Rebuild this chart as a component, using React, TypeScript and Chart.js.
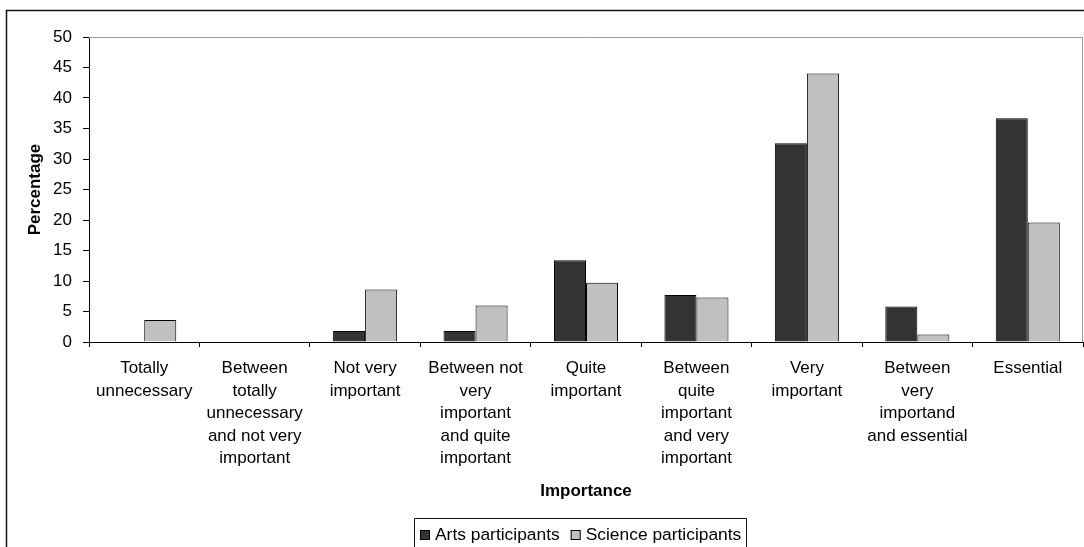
import React, { useEffect, useRef } from "react";
import { Chart, registerables } from "chart.js";

Chart.register(...registerables);

// Response categories (multi-line tick labels)
const categories: string[][] = [
  ["Totally", "unnecessary"],
  ["Between", "totally", "unnecessary", "and not very", "important"],
  ["Not very", "important"],
  ["Between not", "very", "important", "and quite", "important"],
  ["Quite", "important"],
  ["Between", "quite", "important", "and very", "important"],
  ["Very", "important"],
  ["Between", "very", "importand", "and essential"],
  ["Essential"],
];

const seriesNames = ["Arts participants", "Science participants"];

// Percentages per category
const artsValues = [0, 0, 1.8, 1.8, 13.4, 7.7, 32.6, 5.8, 36.7];
const scienceValues = [3.6, 0, 8.6, 6.0, 9.7, 7.3, 44.0, 1.25, 19.6];

const yTickValues = [0, 5, 10, 15, 20, 25, 30, 35, 40, 45, 50];

const seriesColors = ["#333333", "#c0c0c0"];

const FONT = "'Liberation Sans', Arial, Helvetica, sans-serif";

// Draws the outer frame, the grey top/right edges of the plot area and the boxed legend
const framePlugin = {
  id: "frameAndLegend",
  beforeDraw(chart: any) {
    const { ctx, width, height } = chart;
    ctx.save();
    ctx.fillStyle = "#ffffff";
    ctx.fillRect(0, 0, width, height);
    ctx.restore();
  },
  afterDraw(chart: any) {
    const { ctx } = chart;
    const { left, top, right, bottom } = chart.chartArea;
    ctx.save();

    // plot area edges
    ctx.strokeStyle = "#9a9a9a";
    ctx.lineWidth = 1;
    ctx.beginPath();
    ctx.moveTo(left, top + 0.5);
    ctx.lineTo(right - 0.5, top + 0.5);
    ctx.lineTo(right - 0.5, bottom);
    ctx.stroke();

    // outer chart frame
    ctx.strokeStyle = "#111111";
    ctx.lineWidth = 1.5;
    ctx.strokeRect(6.5, 10.5, 3000, 3000);

    // legend
    const fontSize = 17.4;
    ctx.font = `${fontSize}px ${FONT}`;
    ctx.textBaseline = "middle";
    ctx.textAlign = "left";
    const boxLeft = 414;
    const boxTop = 518;
    const inset = 6;
    const sw = 10;
    const gap = 5;
    const itemGap = 11;
    const cy = 535;
    let x = boxLeft + inset;
    chart.data.datasets.forEach((ds: any, i: number) => {
      if (i > 0) x += itemGap;
      ctx.fillStyle = ds.backgroundColor;
      ctx.fillRect(x, cy - sw / 2, sw, sw);
      ctx.strokeStyle = "#000";
      ctx.lineWidth = 1;
      ctx.strokeRect(x + 0.5, cy - sw / 2 + 0.5, sw - 1, sw - 1);
      x += sw + gap;
      ctx.fillStyle = "#000";
      ctx.fillText(ds.label, x, cy);
      x += ctx.measureText(ds.label).width;
    });
    const boxRight = x + 5;
    ctx.strokeStyle = "#111111";
    ctx.lineWidth = 1;
    ctx.beginPath();
    ctx.moveTo(boxLeft + 0.5, 600);
    ctx.lineTo(boxLeft + 0.5, boxTop + 0.5);
    ctx.lineTo(Math.round(boxRight) + 0.5, boxTop + 0.5);
    ctx.lineTo(Math.round(boxRight) + 0.5, 600);
    ctx.stroke();

    ctx.restore();
  },
};

export default function App() {
  const canvasRef = useRef<HTMLCanvasElement | null>(null);

  useEffect(() => {
    document.body.style.margin = "0";
    const canvas = canvasRef.current;
    if (!canvas) return;

    const chart = new Chart(canvas, {
      type: "bar",
      data: {
        labels: categories,
        datasets: [
          {
            label: seriesNames[0],
            data: artsValues,
            backgroundColor: seriesColors[0],
            borderColor: "#000000",
            borderWidth: 1,
            categoryPercentage: 0.58,
            barPercentage: 1,
          },
          {
            label: seriesNames[1],
            data: scienceValues,
            backgroundColor: seriesColors[1],
            borderColor: "#000000",
            borderWidth: 1,
            categoryPercentage: 0.58,
            barPercentage: 1,
          },
        ],
      },
      options: {
        responsive: false,
        animation: false,
        devicePixelRatio: 1,
        layout: { padding: { left: 0, top: 37, right: 1, bottom: 0 } },
        plugins: {
          legend: { display: false },
          tooltip: { enabled: false },
          title: { display: false },
        },
        scales: {
          x: {
            grid: {
              display: true,
              drawOnChartArea: false,
              drawTicks: true,
              tickLength: 5,
              tickColor: "#000000",
              offset: true,
            },
            border: { display: true, color: "#000000", width: 1 },
            ticks: {
              autoSkip: false,
              maxRotation: 0,
              minRotation: 0,
              padding: 10,
              color: "#000000",
              font: { family: FONT, size: 17, lineHeight: 1.33 },
            },
            title: {
              display: true,
              text: "Importance",
              color: "#000000",
              font: { family: FONT, size: 17, weight: "bold", lineHeight: 1.2 },
              padding: { top: 0, bottom: 45 },
            },
            afterFit: (scale: any) => {
              scale.height = 205;
            },
          },
          y: {
            min: 0,
            max: 50,
            afterBuildTicks: (scale: any) => {
              scale.ticks = yTickValues.map((v) => ({ value: v }));
            },
            grid: {
              display: true,
              drawOnChartArea: false,
              drawTicks: true,
              tickLength: 6,
              tickColor: "#000000",
            },
            border: { display: true, color: "#000000", width: 1 },
            ticks: {
              padding: 11,
              color: "#000000",
              font: { family: FONT, size: 17 },
            },
            title: {
              display: true,
              text: "Percentage",
              color: "#000000",
              font: { family: FONT, size: 17, weight: "bold", lineHeight: 1.2 },
              padding: { top: 25, bottom: 0 },
            },
            afterFit: (scale: any) => {
              scale.width = 89;
            },
          },
        },
      },
      plugins: [framePlugin],
    });

    return () => chart.destroy();
  }, []);

  return (
    <canvas
      ref={canvasRef}
      width={1084}
      height={547}
      style={{ display: "block", width: 1084, height: 547 }}
    />
  );
}
